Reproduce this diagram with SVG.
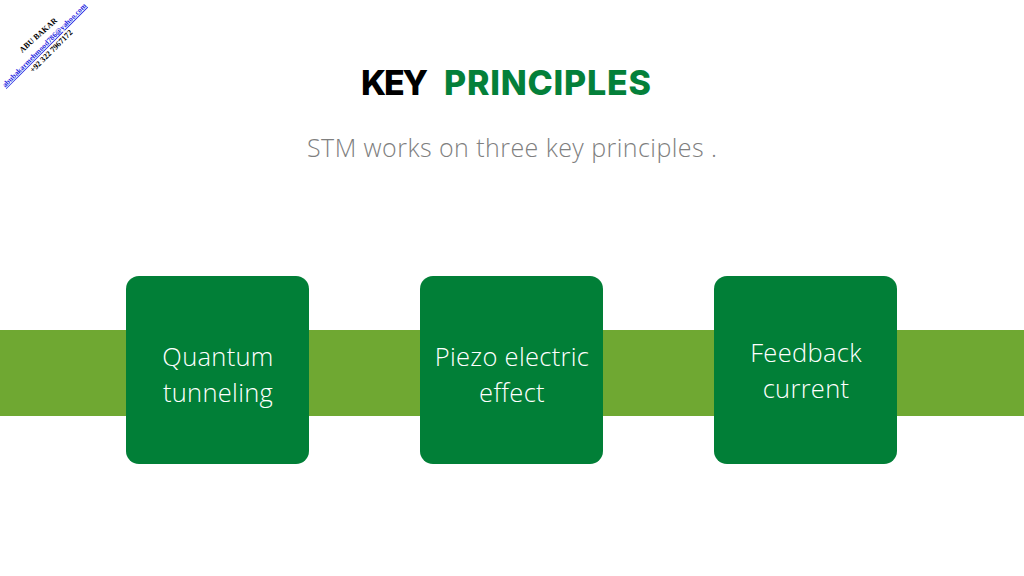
<svg xmlns="http://www.w3.org/2000/svg" width="1024" height="576" viewBox="0 0 1024 576">
<style>
.box{fill:#017F37}
.lbl{font-family:"Open Sans","Noto Sans",sans-serif;font-weight:300;font-size:25.5px;fill:#FFFFFF;text-anchor:middle;letter-spacing:0.3px}
.wm{font-family:"Liberation Serif",serif;font-weight:bold;font-size:8px}
</style>
<rect width="1024" height="576" fill="#FFFFFF"/>
<g id="watermark">
<text class="wm" x="40" y="37" text-anchor="middle" fill="#000" transform="rotate(-42 40 37)">ABU BAKAR</text>
<text class="wm" x="46" y="47" text-anchor="middle" fill="#1F1FE0" text-decoration="underline" transform="rotate(-45 46 47)" style="font-size:7.5px">abubakarmehmood786@yahoo.com</text>
<text class="wm" x="53" y="53" text-anchor="middle" fill="#000" transform="rotate(-45 53 53)">+92 322 7967172</text>
</g>
<g id="title">
<text x="361" y="95" font-family="Inter,'Open Sans',sans-serif" font-weight="800" font-size="34" fill="#000" textLength="67">KEY</text>
<text x="444" y="95" font-family="Inter,'Open Sans',sans-serif" font-weight="800" font-size="34" fill="#04803A" textLength="207">PRINCIPLES</text>
</g>
<text id="subtitle" x="512" y="157" text-anchor="middle" font-family="'Open Sans','Noto Sans',sans-serif" font-weight="300" font-size="25" fill="#7F7F7F" textLength="410">STM works on three key principles .</text>
<g id="connectors">
<rect x="0" y="330" width="1024" height="86" fill="#6FA832"/>
</g>
<g id="node1">
<rect class="box" x="126" y="276" width="183" height="188" rx="13"/>
<text class="lbl" x="218" y="366">Quantum</text>
<text class="lbl" x="218" y="402">tunneling</text>
</g>
<g id="node2">
<rect class="box" x="420" y="276" width="183" height="188" rx="13"/>
<text class="lbl" x="512" y="366">Piezo electric</text>
<text class="lbl" x="512" y="402">effect</text>
</g>
<g id="node3">
<rect class="box" x="714" y="276" width="183" height="188" rx="13"/>
<text class="lbl" x="806" y="362">Feedback</text>
<text class="lbl" x="806" y="398">current</text>
</g>
</svg>
